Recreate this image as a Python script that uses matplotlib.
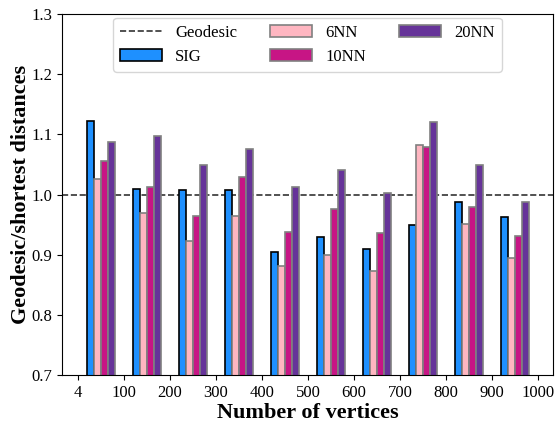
import numpy as np
import matplotlib
matplotlib.use("Agg")
import matplotlib.pyplot as plt

plt.rcParams["font.family"] = ["Liberation Serif", "DejaVu Serif"]

tick_labels = ["4", "100", "200", "300", "400", "500", "600", "700", "800", "900", "1000"]
series_names = ["SIG", "6NN", "10NN", "20NN"]
sig = [1.123, 1.010, 1.008, 1.008, 0.905, 0.930, 0.910, 0.949, 0.987, 0.963]
nn6 = [1.025, 0.970, 0.922, 0.964, 0.881, 0.899, 0.872, 1.083, 0.951, 0.895]
nn10 = [1.056, 1.013, 0.964, 1.029, 0.938, 0.976, 0.936, 1.079, 0.980, 0.931]
nn20 = [1.088, 1.098, 1.049, 1.075, 1.013, 1.041, 1.002, 1.121, 1.049, 0.987]
geodesic = 1.0

colors = ["#1E90FF", "#FFB6C1", "#C71585", "#663399"]
edges = ["black", "grey", "grey", "grey"]

fig = plt.figure(figsize=(5.56, 4.28), dpi=100)
ax = fig.add_axes([0.1115, 0.124, 0.883, 0.843])

x = np.arange(len(sig))
width = 0.15
ax.axhline(geodesic, color="#333333", linestyle="--", linewidth=1.2, label="Geodesic")
for j, (vals, name) in enumerate(zip([sig, nn6, nn10, nn20], series_names)):
    ax.bar(x + 0.5 + (j - 1.5) * width, vals, width, color=colors[j],
           edgecolor=edges[j], linewidth=1.2, label=name, zorder=2)

ax.set_ylim(0.7, 1.3)
ax.set_yticks(np.arange(0.7, 1.31, 0.1))
ax.set_yticklabels([f"{v:.1f}" for v in np.arange(0.7, 1.31, 0.1)])
ax.set_xticks(np.arange(len(tick_labels)))
ax.set_xticklabels(tick_labels)
ax.set_xlim(-0.35, 10.33)
ax.tick_params(labelsize=12)

ax.set_xlabel("Number of vertices", fontsize=16, fontweight="bold", labelpad=2)
ax.set_ylabel("Geodesic/shortest distances", fontsize=16, fontweight="bold", labelpad=0)

ax.legend(ncol=3, loc="upper center", fontsize=12, bbox_to_anchor=(0.5, 1.012),
          handlelength=2.5, columnspacing=2.0)

fig.savefig("out.png", dpi=100)
